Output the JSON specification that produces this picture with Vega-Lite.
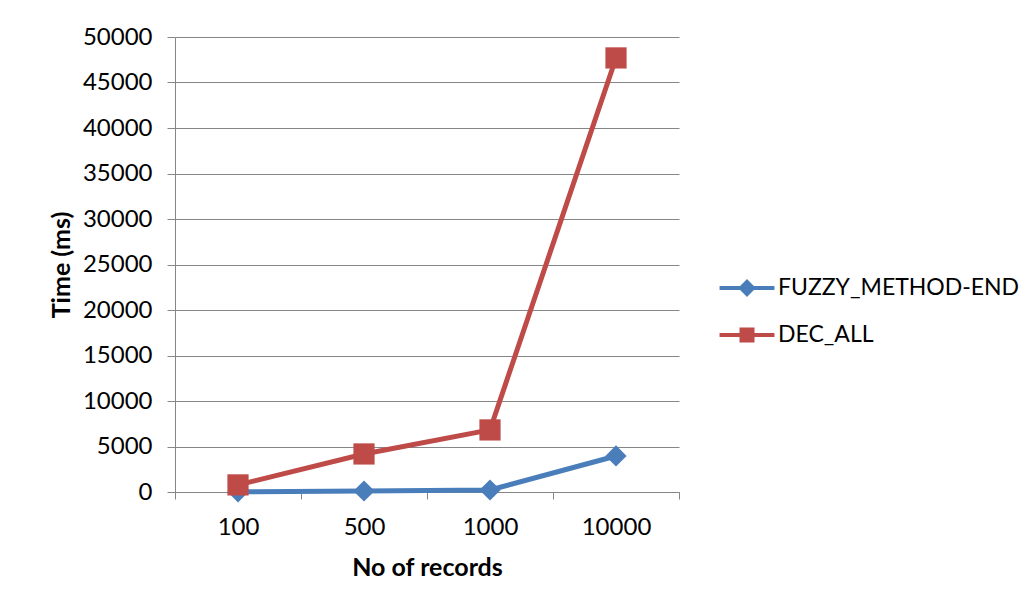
{
  "$schema": "https://vega.github.io/schema/vega-lite/v6.json",
  "width": 504,
  "height": 455,
  "autosize": {"type": "none"},
  "padding": {"left": 175, "top": 37, "right": 351, "bottom": 117},
  "background": "white",
  "config": {
    "view": {"stroke": null},
    "font": "Lato",
    "axis": {
      "labelFont": "Lato",
      "labelFontSize": 24,
      "labelColor": "#000000",
      "titleFont": "Lato",
      "titleFontSize": 25,
      "titleFontWeight": "bold",
      "titleColor": "#000000",
      "domainColor": "#868686",
      "tickColor": "#868686",
      "gridColor": "#868686",
      "gridOpacity": 1,
      "domainWidth": 1,
      "tickWidth": 1
    },
    "legend": {
      "title": null,
      "orient": "none",
      "symbolSize": 900,
      "symbolOpacity": 1,
      "symbolStrokeWidth": 0,
      "labelFont": "Lato",
      "labelFontSize": 23,
      "labelColor": "#000000",
      "labelLimit": 400,
      "labelOffset": 16
    }
  },
  "data": {
    "values": [
      {"records": "100", "series": "FUZZY_METHOD-END", "time": 20},
      {"records": "500", "series": "FUZZY_METHOD-END", "time": 110},
      {"records": "1000", "series": "FUZZY_METHOD-END", "time": 220},
      {"records": "10000", "series": "FUZZY_METHOD-END", "time": 3960},
      {"records": "100", "series": "DEC_ALL", "time": 780},
      {"records": "500", "series": "DEC_ALL", "time": 4180},
      {"records": "1000", "series": "DEC_ALL", "time": 6820},
      {"records": "10000", "series": "DEC_ALL", "time": 47700}
    ]
  },
  "encoding": {
    "x": {
      "field": "records",
      "type": "ordinal",
      "sort": ["100", "500", "1000", "10000"],
      "scale": {"type": "band", "paddingInner": 0, "paddingOuter": 0},
      "axis": {
        "title": "No of records",
        "labelAngle": 0,
        "tickBand": "extent",
        "tickSize": 7,
        "labelPadding": 16,
        "titlePadding": 16,
        "grid": false
      }
    },
    "y": {
      "field": "time",
      "type": "quantitative",
      "scale": {"domain": [0, 50000], "nice": false},
      "axis": {
        "title": "Time (ms)",
        "values": [0, 5000, 10000, 15000, 20000, 25000, 30000, 35000, 40000, 45000, 50000],
        "format": "d",
        "tickSize": 8,
        "labelPadding": 15,
        "titlePadding": 8,
        "grid": true
      }
    }
  },
  "layer": [
    {
      "mark": {"type": "line", "strokeWidth": 5},
      "encoding": {
        "color": {
          "field": "series",
          "type": "nominal",
          "scale": {"domain": ["FUZZY_METHOD-END", "DEC_ALL"], "range": ["#4A7EBB", "#BE4B48"]},
          "legend": null
        }
      }
    },
    {
      "transform": [{"filter": "datum.series === 'FUZZY_METHOD-END'"}],
      "mark": {"type": "point", "filled": true, "opacity": 1, "size": 450, "shape": "diamond"},
      "encoding": {
        "color": {
          "field": "series",
          "type": "nominal",
          "scale": {"domain": ["FUZZY_METHOD-END"], "range": ["#4A7EBB"]},
          "legend": {
            "legendX": 557,
            "legendY": 236,
            "symbolType": "M-1.83,-0.14H-0.46L0,-0.6L0.46,-0.14H1.83V0.14H0.46L0,0.6L-0.46,0.14H-1.83Z",
            "encode": {
              "symbols": {
                "update": {
                  "shape": {"value": "M-1.83,-0.14H-0.46L0,-0.6L0.46,-0.14H1.83V0.14H0.46L0,0.6L-0.46,0.14H-1.83Z"}
                }
              }
            }
          }
        }
      }
    },
    {
      "transform": [{"filter": "datum.series === 'DEC_ALL'"}],
      "mark": {"type": "point", "filled": true, "opacity": 1, "size": 450, "shape": "square"},
      "encoding": {
        "color": {
          "field": "series",
          "type": "nominal",
          "scale": {"domain": ["DEC_ALL"], "range": ["#BE4B48"]},
          "legend": {
            "legendX": 557,
            "legendY": 283,
            "symbolType": "M-1.83,-0.14H-0.5V-0.5H0.5V-0.14H1.83V0.14H0.5V0.5H-0.5V0.14H-1.83Z",
            "encode": {
              "symbols": {
                "update": {
                  "shape": {"value": "M-1.83,-0.14H-0.5V-0.5H0.5V-0.14H1.83V0.14H0.5V0.5H-0.5V0.14H-1.83Z"}
                }
              }
            }
          }
        }
      }
    }
  ],
  "resolve": {
    "scale": {"color": "independent"},
    "legend": {"color": "independent"}
  }
}
